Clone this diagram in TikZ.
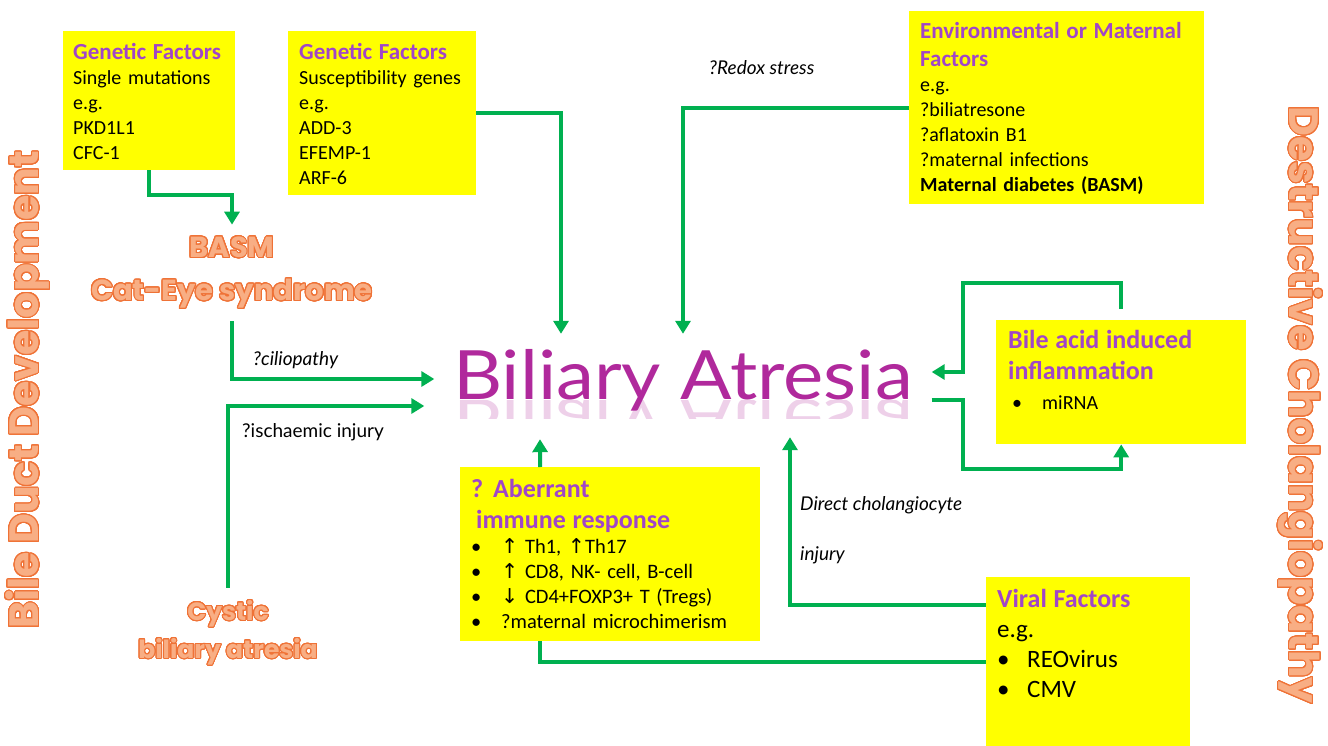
\documentclass[tikz,border=0pt]{standalone}
\usepackage{fontspec}
\setmainfont{Carlito}
\newfontfamily\lblfont{Lato}
\newfontfamily\bafamily[FakeStretch=1.12]{Lato}
\newfontfamily\orfont{Poppins}
\newfontfamily\sym{DejaVu Sans}
\usepackage{contour}
\usetikzlibrary{arrows.meta,positioning,calc}
\definecolor{yel}{HTML}{FFFF00}
\definecolor{purp}{HTML}{A046C8}
\definecolor{agreen}{HTML}{00B050}
\definecolor{orline}{HTML}{EF7236}
\definecolor{orfill}{HTML}{F8AE84}
\definecolor{bamag}{HTML}{B0299C}
\contourlength{1pt}
\contournumber{32}
\parindent=0pt
\newcommand{\hd}[1]{\textcolor{purp}{\bfseries #1}}
\newcommand{\orout}[1]{\contour{orline}{\textcolor{orfill}{#1}}}
\newcommand{\bul}{\makebox[30pt][l]{\textbullet}}
\tikzset{
  factbox/.style={fill=yel, draw=none, anchor=north west, inner sep=0pt},
  boxtext/.style={anchor=north west, inner sep=0pt, align=left, font=\fontsize{20}{25}\selectfont},
  arrow/.style={-{Triangle[length=13pt,width=15pt]}, line width=4pt, draw=agreen},
  link/.style={line width=4pt, draw=agreen},
  note/.style={anchor=west, inner sep=0pt, align=left, font=\lblfont\fontsize{19}{23}\selectfont\itshape},
  plainnote/.style={note, font=\lblfont\fontsize{19}{23}\selectfont},
  orlabel/.style={align=center, inner xsep=0pt, inner ysep=12pt, font=\orfont\bfseries\fontsize{29}{43}\selectfont},
  orside/.style={inner sep=0pt, font=\orfont\bfseries\fontsize{41}{45}\selectfont},
  bafont/.style={inner sep=0pt, text=bamag, font=\bafamily\fontsize{68}{74}\selectfont}
}
\begin{document}
\begin{tikzpicture}[x=1pt,y=-1pt]
\useasboundingbox (0,0) rectangle (1328,746);
% yellow boxes
\node[factbox, minimum width=172, minimum height=139] (gen1) at (63,31) {};
\node[factbox, minimum width=188, minimum height=164] (gen2) at (288,31) {};
\node[factbox, minimum width=295, minimum height=193] (env) at (909,11) {};
\node[factbox, minimum width=250, minimum height=124] (bile) at (996,320) {};
\node[factbox, minimum width=300, minimum height=174] (immune) at (460,467) {};
\node[factbox, minimum width=204, minimum height=169] (viral) at (986,577) {};
% box contents
\node[boxtext, text width=165] (gen1txt) at (73,43) {{\fontsize{23}{25}\selectfont\hd{Genetic Factors}\par}Single mutations\\ e.g.\\ PKD1L1\\ CFC-1};
\node[boxtext, text width=175] (gen2txt) at (299,43) {{\fontsize{23}{25}\selectfont\hd{Genetic Factors}\par}Susceptibility genes\\ e.g.\\ ADD-3\\ EFEMP-1\\ ARF-6};
\node[boxtext, text width=285] (envtxt) at (920,22) {{\fontsize{23}{28}\selectfont\hd{Environmental or Maternal}\\ \hd{Factors}\par}
  e.g.\\ ?biliatresone\\ ?aflatoxin B1\\ ?maternal infections\\ \textbf{Maternal diabetes (BASM)}};
\node[boxtext, text width=235] (biletxt) at (1008,330) {{\fontsize{26}{31}\selectfont\hd{Bile acid induced}\\ \hd{inflammation}\par}
  {\fontsize{20}{30}\selectfont\hspace*{4pt}\bul miRNA\par}};
\node[boxtext, text width=295] (immunetxt) at (471,479) {{\fontsize{26}{31}\selectfont\hd{? Aberrant}\\ \hspace*{5pt}\hd{immune response}\par}
  {\fontsize{20.5}{25}\selectfont \bul{\sym↑} Th1, {\sym↑}Th17\\ \bul{\sym↑} CD8, NK- cell, B-cell\\ \bul{\sym↓} CD4+FOXP3+ T (Tregs)\\ \bul ?maternal microchimerism\par}};
\node[boxtext, text width=195] (viraltxt) at (997,589) {{\fontsize{26}{33}\selectfont\hd{Viral Factors}\par}
  {\fontsize{25}{30}\selectfont e.g.\\ \bul REOvirus\\ \bul CMV\par}};
% central title
\node[bafont, minimum width=497, minimum height=92] (ba) at (683,380) {Biliary Atresia};
\begin{scope}
\clip (440,400) rectangle (930,418);
\node[bafont, yscale=-1, anchor=base, opacity=.22] (baecho) at (ba.base) {Biliary Atresia};
\end{scope}
% orange labels
\node[orlabel] (basm) at (232,273) {\orout{BASM}\\ \orout{Cat-Eye syndrome}};
\node[orlabel, font=\orfont\bfseries\fontsize{25}{38}\selectfont] (cystic) at (228,633) {\orout{Cystic}\\ \orout{biliary atresia}};
\node[orside, rotate=90] (devel) at (28,390) {\orout{Bile Duct Development}};
\node[orside, rotate=-90] (cholang) at (1300,405) {\orout{Destructive Cholangiopathy}};
% connector labels
\node[note] (redox) at (709,68) {?Redox stress};
\node[note] (cilio) at (253,360) {?ciliopathy};
\node[plainnote] (isch) at (242,432) {?ischaemic injury};
\node[note, font=\lblfont\fontsize{19}{50}\selectfont\itshape] (direct) at (800,530) {Direct cholangiocyte\\ injury};
% connectors
\draw[arrow] (gen1.south) -- ++(0,25) -| (basm.north);
\draw[arrow] (gen2.east) -| ([xshift=-122pt]ba.north);
\draw[arrow] (env.west) -| (ba.north);
\draw[arrow] (basm.south) |- ([yshift=1pt]ba.west);
\draw[arrow] (cystic.north) |- ([xshift=-10pt,yshift=-26pt]ba.west);
\draw[arrow] ([yshift=11pt]bile.north) |- ++(-158,-26) |- ([yshift=8pt]ba.east);
\draw[arrow] ([yshift=-20pt]ba.east) -| ++(31,69) -| (bile.south);
\draw[arrow] ([xshift=-70pt]immune.north) -- ([xshift=-143pt,yshift=-13pt]ba.south);
\draw[link] (viral.west) -| ([xshift=-70pt]immune.south);
\draw[arrow] ([yshift=57pt]viral.west) -| ([xshift=107pt,yshift=-11pt]ba.south);
\end{tikzpicture}
\end{document}
